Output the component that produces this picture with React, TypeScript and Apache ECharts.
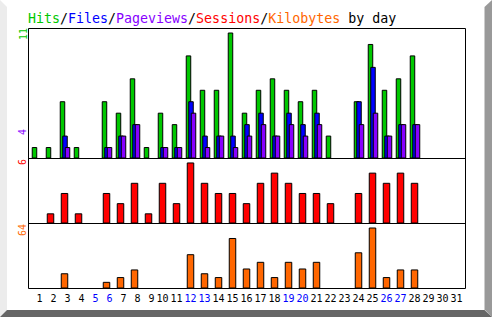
import React, { useEffect, useRef } from "react";
import * as echarts from "echarts";

const days = ["1","2","3","4","5","6","7","8","9","10","11","12","13","14","15","16","17","18","19","20","21","22","23","24","25","26","27","28","29","30","31"];
const weekendDays = ["5","6","12","13","19","20","26","27"];
const hits =     [1,1,5,1,0,5,4,7,1,4,3,9,6,6,11,4,6,7,6,5,6,2,0,5,10,6,7,9,0,0,0];
const files =    [0,0,2,0,0,1,2,3,0,1,1,5,2,2,2,3,4,2,4,3,4,0,0,5,8,2,3,3,0,0,0];
const pages =    [0,0,1,0,0,1,2,3,0,1,1,4,1,2,1,2,3,2,3,2,3,0,0,3,4,2,3,3,0,0,0];
const sessions = [0,1,3,1,0,3,2,4,1,4,2,6,4,3,3,2,4,5,4,3,3,2,0,3,5,4,5,4,0,0,0];
const kbytes =   [0,0,16,0,0,7,12,20,0,0,0,36,16,12,53,21,28,12,28,21,28,0,0,38,64,12,20,20,0,0,0];

const C_HITS = "#00c800";
const C_FILES = "#0000ff";
const C_PAGES = "#8800ff";
const C_SESS = "#ff0000";
const C_KB = "#ff6600";
const MONO = '"DejaVu Sans Mono", monospace';

export default function App() {
  const ref = useRef<HTMLDivElement>(null);
  useEffect(() => {
    document.body.style.margin = "0";
    const chart = echarts.init(ref.current!, undefined, { renderer: "svg" });
    const maxHits = Math.max(...hits);
    const maxPages = Math.max(...pages);
    const maxSess = Math.max(...sessions);
    const maxKb = Math.max(...kbytes);
    const barStyle = (c: string) => ({ color: c, borderColor: "#000", borderWidth: 1 });
    const xBase = (gi: number, showLabel: boolean) => ({
      type: "category",
      gridIndex: gi,
      data: days,
      boundaryGap: true,
      axisLine: { show: false },
      axisTick: { show: false },
      splitLine: { show: false },
      axisLabel: showLabel
        ? {
            show: true,
            interval: 0,
            margin: 5,
            formatter: (v: string) => {
              const t = v.length < 2 ? "\u00a0" + v : v;
              return weekendDays.includes(v) ? `{w|${t}}` : `{n|${t}}`;
            },
            rich: {
              w: { color: "#0000ff", fontFamily: MONO, fontSize: 10 },
              n: { color: "#000000", fontFamily: MONO, fontSize: 10 },
            },
          }
        : { show: false },
    });
    const yBase = (gi: number, max: number) => ({
      type: "value",
      gridIndex: gi,
      min: 0,
      max,
      show: false,
    });
    const rotLabel = (text: string, x: number, y: number, fill: string) => ({
      type: "text",
      x,
      y,
      rotation: Math.PI / 2,
      z: 100,
      style: { text, fill, fontFamily: MONO, fontSize: 10, align: "left", verticalAlign: "middle" },
    });
    const lbl = (c: string) => ({ fill: c, color: c, fontFamily: MONO, fontSize: 13.3 });
    chart.setOption({
      animation: false,
      backgroundColor: "#ffffff",
      grid: [
        { left: 30, top: 28.5, width: 434, height: 130 },
        { left: 29.5, top: 158.5, width: 434, height: 65 },
        { left: 29.5, top: 223.5, width: 434, height: 65 },
      ],
      xAxis: [xBase(0, false), xBase(1, false), xBase(2, true)],
      yAxis: [yBase(0, 11.35), yBase(1, 6.39), yBase(2, 68.2)],
      series: [
        { type: "bar", name: "Hits", xAxisIndex: 0, yAxisIndex: 0, data: hits, barWidth: 5.5, barGap: "-54.5%", itemStyle: barStyle(C_HITS) },
        { type: "bar", name: "Files", xAxisIndex: 0, yAxisIndex: 0, data: files, barWidth: 5.5, barGap: "-54.5%", itemStyle: barStyle(C_FILES) },
        { type: "bar", name: "Pageviews", xAxisIndex: 0, yAxisIndex: 0, data: pages, barWidth: 5.5, barGap: "-54.5%", itemStyle: barStyle(C_PAGES) },
        { type: "bar", name: "Sessions", xAxisIndex: 1, yAxisIndex: 1, data: sessions, barWidth: 7.5, itemStyle: barStyle(C_SESS) },
        { type: "bar", name: "Kilobytes", xAxisIndex: 2, yAxisIndex: 2, data: kbytes, barWidth: 7.5, itemStyle: barStyle(C_KB) },
      ],
      graphic: [
        { type: "polygon", shape: { points: [[0, 0], [7, 7], [7, 310], [0, 317]] }, style: { fill: "#ececec" }, z: 1 },
        { type: "polygon", shape: { points: [[484.5, 7], [492, 0], [492, 317], [484.5, 309.5]] }, style: { fill: "#999999" }, z: 1 },
        { type: "polygon", shape: { points: [[0, 317], [7, 310], [484.5, 310], [492, 317]] }, style: { fill: "#666666" }, z: 1 },
        { type: "rect", shape: { x: 28.5, y: 28.5, width: 437, height: 260 }, style: { fill: "none", stroke: "#000", lineWidth: 1 }, z: 100 },
        { type: "line", shape: { x1: 28.5, y1: 158.5, x2: 465.5, y2: 158.5 }, style: { stroke: "#000", lineWidth: 1 }, z: 100 },
        { type: "line", shape: { x1: 28.5, y1: 223.5, x2: 465.5, y2: 223.5 }, style: { stroke: "#000", lineWidth: 1 }, z: 100 },
        {
          type: "text",
          x: 28,
          y: 18.5,
          z: 100,
          style: {
            text: "{g|Hits}{k|/}{b|Files}{k|/}{p|Pageviews}{k|/}{r|Sessions}{k|/}{o|Kilobytes}{k| by day}",
            fontFamily: MONO,
            fontSize: 13.3,
            align: "left",
            verticalAlign: "middle",
            rich: {
              g: lbl(C_HITS),
              b: lbl(C_FILES),
              p: lbl(C_PAGES),
              r: lbl(C_SESS),
              o: lbl(C_KB),
              k: lbl("#000000"),
            },
          },
        },
        rotLabel(String(maxHits), 23, 40, C_HITS),
        rotLabel(String(maxPages), 22.5, 135, C_PAGES),
        rotLabel(String(maxSess), 22.5, 165, C_SESS),
        rotLabel(String(maxKb), 22.5, 236, C_KB),
      ],
    });
    return () => chart.dispose();
  }, []);
  return <div ref={ref} style={{ width: 492, height: 317 }} />;
}
